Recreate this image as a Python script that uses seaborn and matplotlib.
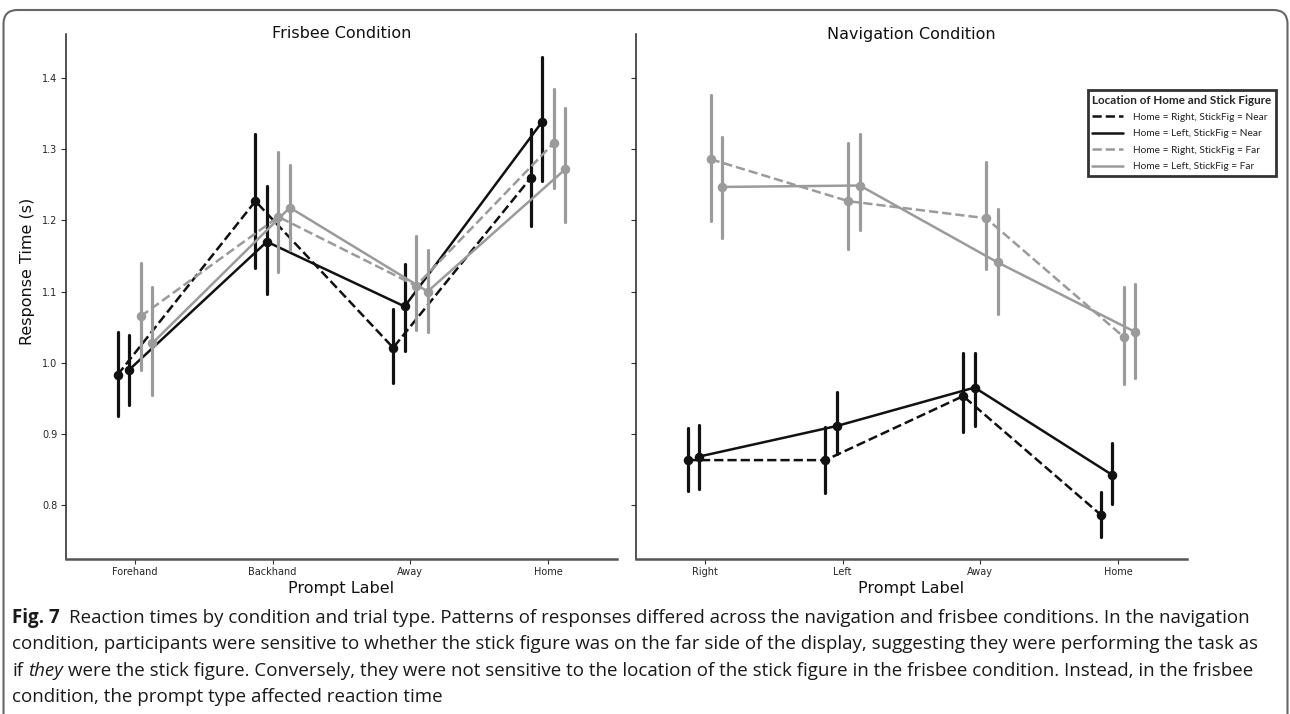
import matplotlib
matplotlib.use("Agg")
import matplotlib.pyplot as plt
import matplotlib.transforms as mtransforms
import numpy as np
import pandas as pd
import seaborn as sns
from matplotlib.lines import Line2D
from matplotlib.patches import FancyBboxPatch

W, H = 1290, 714

FRISBEE_PROMPTS = ["Forehand", "Backhand", "Away", "Home"]
NAV_PROMPTS = ["Right", "Left", "Away", "Home"]
GROUPS = [
    "Home = Right, StickFig = Near",
    "Home = Left, StickFig = Near",
    "Home = Right, StickFig = Far",
    "Home = Left, StickFig = Far",
]

# rows follow GROUPS, columns follow the prompt order of each condition
FRISBEE_MEAN = [
    [0.983, 1.227, 1.021, 1.260],
    [0.990, 1.170, 1.079, 1.339],
    [1.065, 1.205, 1.108, 1.309],
    [1.027, 1.218, 1.100, 1.272],
]
FRISBEE_LO = [
    [0.925, 1.133, 0.971, 1.192],
    [0.941, 1.097, 1.017, 1.256],
    [0.990, 1.128, 1.046, 1.246],
    [0.955, 1.158, 1.043, 1.198],
]
FRISBEE_HI = [
    [1.043, 1.321, 1.076, 1.329],
    [1.039, 1.249, 1.139, 1.430],
    [1.140, 1.296, 1.178, 1.385],
    [1.106, 1.278, 1.158, 1.358],
]

NAV_MEAN = [
    [0.863, 0.863, 0.953, 0.786],
    [0.868, 0.911, 0.965, 0.842],
    [1.286, 1.227, 1.203, 1.036],
    [1.247, 1.249, 1.141, 1.043],
]
NAV_LO = [
    [0.819, 0.817, 0.902, 0.755],
    [0.822, 0.872, 0.911, 0.801],
    [1.199, 1.160, 1.131, 0.970],
    [1.175, 1.186, 1.068, 0.979],
]
NAV_HI = [
    [0.908, 0.909, 1.013, 0.818],
    [0.913, 0.959, 1.014, 0.887],
    [1.376, 1.309, 1.282, 1.106],
    [1.317, 1.321, 1.216, 1.110],
]

GROUP_COLORS = ["#111111", "#111111", "#9b9b9b", "#9b9b9b"]
GROUP_STYLES = ["--", "-", "--", "-"]

CAPTION = [
    [("Fig. 7", "bold", "normal"),
     ("Reaction times by condition and trial type. Patterns of responses differed across the "
      "navigation and frisbee conditions. In the navigation", "normal", "normal")],
    [("condition, participants were sensitive to whether the stick figure was on the far side "
      "of the display, suggesting they were performing the task as", "normal", "normal")],
    [("if", "normal", "normal"), ("they", "normal", "italic"),
     ("were the stick figure. Conversely, they were not sensitive to the location of the stick "
      "figure in the frisbee condition. Instead, in the frisbee", "normal", "normal")],
    [("condition, the prompt type affected reaction time", "normal", "normal")],
]


def to_long(prompts, mean, lo, hi):
    # three rows per cell (lo, mean, hi): median gives the point, min/max the bar
    rows = []
    for g, group in enumerate(GROUPS):
        for p, prompt in enumerate(prompts):
            for v in (lo[g][p], mean[g][p], hi[g][p]):
                rows.append({"prompt": prompt, "group": group, "rt": v})
    return pd.DataFrame(rows)


def draw_panel(ax, df, prompts, title):
    sns.pointplot(
        data=df, x="prompt", y="rt", hue="group",
        order=prompts, hue_order=GROUPS,
        palette=dict(zip(GROUPS, GROUP_COLORS)),
        linestyles=GROUP_STYLES, markers="o",
        estimator="median", errorbar=lambda v: (v.min(), v.max()),
        dodge=0.25, linewidth=1.8, markersize=5.5,
        err_kws={"linewidth": 2.3},
        legend=False, ax=ax,
    )
    ax.text(0.5, 1.0, title, transform=ax.transAxes, ha="center", va="center",
            fontsize=11.5, color="#111111")
    ax.set_xlabel("Prompt Label", fontsize=11.5, color="#111111", labelpad=3)
    ax.set_ylabel("")
    ax.set_xlim(-0.5, 3.5)
    ax.tick_params(axis="both", labelsize=7, length=3.5, width=0.8, color="#333333", pad=2.5)
    sns.despine(ax=ax)
    ax.spines["left"].set_linewidth(1.1)
    ax.spines["left"].set_color("#222222")
    ax.spines["bottom"].set_linewidth(1.8)
    ax.spines["bottom"].set_color("#555555")


def text_runs(fig, renderer, x_px, y_px, runs, size, family):
    space = (fig.text(0, 0, "x x", fontsize=size, family=family).get_window_extent(renderer).width
             - fig.text(0, 0, "xx", fontsize=size, family=family).get_window_extent(renderer).width)
    for t in fig.texts[-2:]:
        t.remove()
    x = x_px
    for txt, weight, style in runs:
        t = fig.text(x / W, 1 - y_px / H, txt, fontsize=size, family=family,
                     fontweight=weight, fontstyle=style, color="#1a1a1a",
                     ha="left", va="baseline")
        x += t.get_window_extent(renderer).width + (space * 1.9 if weight == "bold" else space)


def main():
    sns.set_style("ticks")
    plt.rcParams["font.family"] = ["DejaVu Sans"]

    fig = plt.figure(figsize=(W / 100, H / 100), dpi=100)
    ax1 = fig.add_axes([66 / W, 1 - 559 / H, 551 / W, 525 / H])
    ax2 = fig.add_axes([636 / W, 1 - 559 / H, 551 / W, 525 / H], sharey=ax1)

    draw_panel(ax1, to_long(FRISBEE_PROMPTS, FRISBEE_MEAN, FRISBEE_LO, FRISBEE_HI),
               FRISBEE_PROMPTS, "Frisbee Condition")
    draw_panel(ax2, to_long(NAV_PROMPTS, NAV_MEAN, NAV_LO, NAV_HI),
               NAV_PROMPTS, "Navigation Condition")

    ax1.set_ylim(0.724, 1.462)
    ax1.set_yticks([0.8, 0.9, 1.0, 1.1, 1.2, 1.3, 1.4])
    ax1.set_ylabel("Response Time (s)", fontsize=11.5, color="#111111")
    ax1.yaxis.set_label_coords(-0.056, 0.547)
    ax2.tick_params(labelleft=False)

    handles = [Line2D([], [], color=c, linestyle=s, linewidth=1.8)
               for c, s in zip(GROUP_COLORS, GROUP_STYLES)]
    leg = fig.legend(
        handles, GROUPS, loc="upper right",
        bbox_to_anchor=(1276 / W, 1 - 90 / H), bbox_transform=fig.transFigure,
        title="Location of Home and Stick Figure",
        title_fontproperties={"family": "Lato", "weight": "bold", "size": 8.4},
        prop={"family": "Lato", "size": 7.3}, alignment="left",
        frameon=True, fancybox=False, borderaxespad=0, borderpad=0.45,
        handlelength=3.0, handletextpad=1.0, labelspacing=0.72,
    )
    leg.get_frame().set_edgecolor("black")
    leg.get_frame().set_linewidth(2)
    for t in leg.get_texts():
        t.set_color("#222222")

    # rounded outer frame of the journal figure box
    frame = FancyBboxPatch((3.5, -30), 1284, 704 + 30,
                           boxstyle="round,pad=0,rounding_size=14",
                           transform=mtransforms.IdentityTransform(),
                           facecolor="none", edgecolor="#666666", linewidth=1.5)
    fig.add_artist(frame)

    renderer = fig.canvas.get_renderer()
    baselines = [623, 649, 675.5, 702]
    for runs, y in zip(CAPTION, baselines):
        text_runs(fig, renderer, 12, y, runs, 13.5, "Open Sans")

    fig.savefig("out.png", dpi=100)
    plt.close(fig)


if __name__ == "__main__":
    main()
